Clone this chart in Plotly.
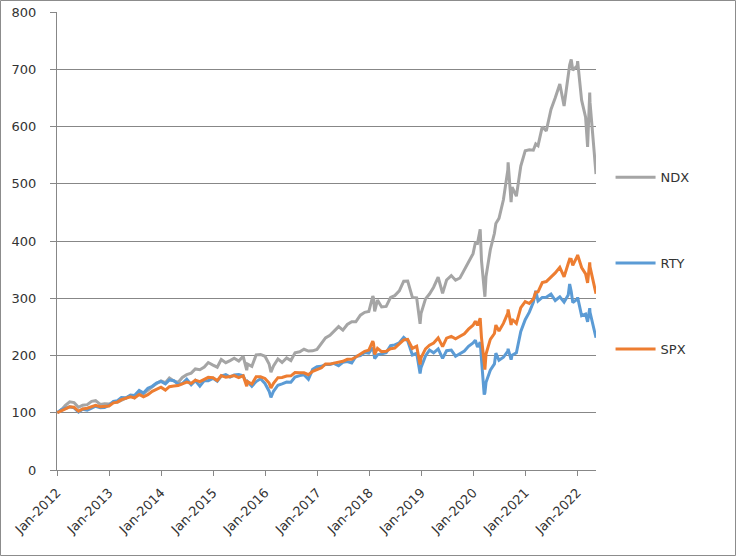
import plotly.graph_objects as go

# Index levels rebased to 100 on the first trading day of 2012
dates = [
    "2012-01-03", "2012-01-31", "2012-02-29", "2012-03-30", "2012-04-30", "2012-05-31",
    "2012-06-29", "2012-07-31", "2012-08-31", "2012-09-28", "2012-10-31", "2012-11-30",
    "2012-12-31", "2013-01-31", "2013-02-28", "2013-03-28", "2013-04-30", "2013-05-31",
    "2013-06-28", "2013-07-31", "2013-08-30", "2013-09-30", "2013-10-31", "2013-11-29",
    "2013-12-31", "2014-01-31", "2014-02-28", "2014-03-31", "2014-04-30", "2014-05-30",
    "2014-06-30", "2014-07-31", "2014-08-29", "2014-09-30", "2014-10-31", "2014-11-28",
    "2014-12-31", "2015-01-30", "2015-02-27", "2015-03-31", "2015-04-30", "2015-05-29",
    "2015-06-30", "2015-07-31", "2015-08-25", "2015-08-31", "2015-09-30", "2015-10-30",
    "2015-11-30", "2015-12-31", "2016-01-29", "2016-02-11", "2016-02-29", "2016-03-31",
    "2016-04-29", "2016-05-31", "2016-06-30", "2016-07-29", "2016-08-31", "2016-09-30",
    "2016-10-31", "2016-11-30", "2016-12-30", "2017-01-31", "2017-02-28", "2017-03-31",
    "2017-04-28", "2017-05-31", "2017-06-30", "2017-07-31", "2017-08-31", "2017-09-29",
    "2017-10-31", "2017-11-30", "2017-12-29", "2018-01-26", "2018-01-31", "2018-02-08",
    "2018-02-28", "2018-03-29", "2018-04-30", "2018-05-31", "2018-06-29", "2018-07-31",
    "2018-08-31", "2018-09-28", "2018-10-31", "2018-11-30", "2018-12-24", "2018-12-31",
    "2019-01-31", "2019-02-28", "2019-03-29", "2019-04-30", "2019-05-31", "2019-06-28",
    "2019-07-31", "2019-08-30", "2019-09-30", "2019-10-31", "2019-11-29", "2019-12-31",
    "2020-01-16", "2020-01-31", "2020-02-19", "2020-02-28", "2020-03-18", "2020-03-23",
    "2020-03-31", "2020-04-30", "2020-05-29", "2020-06-08", "2020-06-30", "2020-07-31",
    "2020-08-31", "2020-09-02", "2020-09-23", "2020-09-30", "2020-10-30", "2020-11-30",
    "2020-12-31", "2021-01-29", "2021-02-26", "2021-03-15", "2021-03-31", "2021-04-30",
    "2021-05-28", "2021-06-30", "2021-07-30", "2021-08-31", "2021-09-30", "2021-10-29",
    "2021-11-08", "2021-11-19", "2021-11-30", "2021-12-31", "2022-01-03", "2022-01-31",
    "2022-02-28", "2022-03-14", "2022-03-29", "2022-03-31", "2022-04-29", "2022-05-12",
]

ndx = [
    100.0, 104.8, 113.0, 119.2, 117.7, 109.6,
    113.2, 114.2, 119.9, 121.1, 114.6, 115.8,
    115.1, 118.2, 118.5, 122.0, 124.9, 129.3,
    125.9, 134.0, 133.1, 139.2, 146.2, 150.9,
    155.4, 152.4, 160.8, 155.6, 153.0, 161.7,
    166.6, 169.2, 176.6, 175.2, 179.9, 187.7,
    183.3, 179.6, 192.9, 187.5, 191.0, 195.1,
    190.3, 198.5, 174.3, 185.0, 181.0, 201.1,
    201.9, 198.7, 185.2, 170.8, 181.8, 194.0,
    187.8, 195.8, 191.2, 204.7, 206.5, 210.9,
    207.7, 208.1, 210.5, 221.0, 230.6, 235.2,
    241.6, 250.5, 244.4, 254.2, 259.1, 258.8,
    270.4, 275.4, 276.8, 303.9, 300.7, 277.0,
    296.7, 284.8, 285.8, 301.5, 304.6, 312.9,
    329.9, 330.0, 301.5, 300.7, 255.3, 273.9,
    298.9, 307.4, 319.3, 336.7, 308.4, 331.9,
    339.6, 331.6, 335.4, 349.8, 363.6, 377.9,
    396.9, 395.9, 420.5, 366.2, 315.0, 302.6,
    338.1, 384.7, 413.5, 430.6, 439.5, 471.9,
    524.1, 537.4, 468.0, 494.1, 478.2, 530.8,
    557.7, 559.3, 558.6, 569.5, 566.5, 599.7,
    592.3, 629.8, 650.2, 674.3, 635.7, 685.8,
    707.3, 717.1, 698.2, 706.2, 714.0, 646.0,
    616.1, 564.5, 659.4, 642.1, 556.3, 517.0,
]

rty = [
    100.0, 105.4, 107.8, 110.4, 108.6, 101.3,
    106.2, 104.6, 108.0, 111.4, 108.9, 109.3,
    113.0, 120.0, 121.2, 126.5, 126.0, 130.9,
    130.0, 139.0, 134.4, 142.8, 146.3, 152.0,
    154.7, 150.4, 157.3, 156.0, 149.9, 150.9,
    158.6, 148.9, 156.2, 146.5, 156.1, 156.0,
    160.2, 155.0, 164.0, 166.6, 162.2, 165.8,
    166.8, 164.7, 151.1, 154.2, 146.4, 154.5,
    159.3, 151.1, 137.7, 126.8, 137.5, 148.1,
    150.4, 153.6, 153.2, 162.2, 164.9, 166.4,
    158.4, 175.8, 180.5, 181.1, 184.4, 184.3,
    186.2, 182.2, 188.2, 189.5, 186.9, 198.3,
    199.8, 205.3, 204.2, 213.8, 209.4, 194.5,
    201.1, 203.4, 205.0, 217.2, 218.5, 222.2,
    231.5, 225.6, 201.0, 203.9, 168.5, 179.3,
    199.4, 209.5, 204.7, 211.6, 194.9, 208.3,
    209.4, 198.8, 202.6, 207.8, 216.0, 221.9,
    226.7, 214.6, 223.2, 196.3, 131.8, 134.8,
    153.3, 174.3, 185.4, 204.1, 191.7, 196.9,
    207.7, 211.7, 192.8, 200.5, 204.6, 242.0,
    262.6, 275.7, 292.7, 312.8, 295.3, 301.4,
    301.7, 307.3, 296.0, 302.4, 293.1, 305.5,
    324.8, 311.6, 292.4, 298.6, 301.6, 269.7,
    272.4, 258.8, 282.6, 275.3, 247.9, 231.0,
]

spx = [
    100.0, 102.8, 106.9, 110.3, 109.5, 102.6,
    106.7, 108.0, 110.1, 112.8, 110.6, 110.9,
    111.7, 117.3, 118.6, 122.9, 125.1, 127.7,
    125.8, 132.0, 127.9, 131.7, 137.5, 141.4,
    144.7, 139.6, 145.6, 146.6, 147.5, 150.6,
    153.5, 151.2, 156.9, 154.4, 158.0, 161.9,
    161.2, 156.2, 164.8, 161.9, 163.3, 165.0,
    161.5, 164.7, 146.2, 154.4, 150.3, 162.8,
    162.9, 160.0, 151.9, 143.2, 151.3, 161.3,
    161.7, 164.2, 164.4, 170.2, 170.0, 169.8,
    166.5, 172.2, 175.3, 178.5, 185.1, 185.0,
    186.7, 188.9, 189.8, 193.4, 193.5, 197.3,
    201.7, 207.3, 209.4, 225.0, 221.1, 202.1,
    212.5, 206.8, 207.4, 211.8, 212.9, 220.5,
    227.2, 228.2, 212.3, 216.1, 184.1, 196.3,
    211.7, 218.0, 221.9, 230.7, 215.5, 230.4,
    233.4, 229.2, 233.1, 237.9, 246.0, 253.0,
    259.7, 252.6, 265.2, 231.3, 187.8, 175.2,
    202.4, 228.1, 238.4, 253.1, 242.8, 256.1,
    274.1, 280.4, 253.5, 263.3, 256.1, 283.6,
    294.1, 290.8, 298.4, 310.8, 311.1, 327.4,
    329.2, 336.5, 344.2, 354.1, 337.3, 360.6,
    368.2, 367.9, 357.6, 373.2, 375.6, 353.6,
    342.5, 326.8, 362.7, 354.7, 323.5, 308.0,
]

series_names = ["NDX", "RTY", "SPX"]
series_values = [ndx, rty, spx]
series_colors = ["#A5A5A5", "#5B9BD5", "#ED7D31"]

year_ticks = [f"{y}-01-01" for y in range(2012, 2023)]
year_labels = [f"Jan-{y}" for y in range(2012, 2023)]

fig = go.Figure()
for i, (name, vals, col) in enumerate(zip(series_names, series_values, series_colors)):
    fig.add_trace(go.Scatter(
        x=dates, y=vals, mode="lines", name=name,
        line=dict(color=col, width=3),
        legendgroup=f"g{i}",
    ))

FONT = dict(family="DejaVu Sans, Verdana, sans-serif", size=13, color="#333333")
GRID = "#878787"

fig.update_layout(
    width=736, height=556,
    margin=dict(l=57, r=140, t=12, b=86, autoexpand=False),
    paper_bgcolor="white", plot_bgcolor="white",
    font=FONT,
    showlegend=True,
    legend=dict(
        x=1.027, xanchor="left", y=0.672, yanchor="top",
        tracegroupgap=66, font=FONT,
        bgcolor="rgba(0,0,0,0)", itemwidth=40,
    ),
    xaxis=dict(
        type="date", automargin=False,
        range=["2012-01-01", "2022-05-12"],
        tickvals=year_ticks, ticktext=year_labels,
        tickangle=-45, ticks="outside", ticklen=5, tickcolor=GRID,
        ticklabelstandoff=4,
        showgrid=False, showline=True, linecolor=GRID, linewidth=1,
        zeroline=False, tickfont=FONT,
    ),
    yaxis=dict(
        automargin=False,
        range=[0, 800], tickvals=list(range(0, 801, 100)),
        ticks="outside", ticklen=6, tickcolor=GRID, ticklabelstandoff=11,
        showgrid=True, gridcolor=GRID, gridwidth=1,
        showline=True, linecolor=GRID, linewidth=1,
        zeroline=False, tickfont=FONT,
    ),
    shapes=[dict(
        type="rect", xref="paper", yref="paper",
        x0=-56.5 / 539, x1=678.5 / 539,
        y0=-85.5 / 458, y1=469.5 / 458,
        line=dict(color="#8C8C8C", width=1), fillcolor="rgba(0,0,0,0)",
        layer="below",
    )],
)

fig.write_html(
    "out.html",
    config={"displayModeBar": False},
    post_script="document.body.style.margin='0px';document.body.style.overflow='hidden';",
)
